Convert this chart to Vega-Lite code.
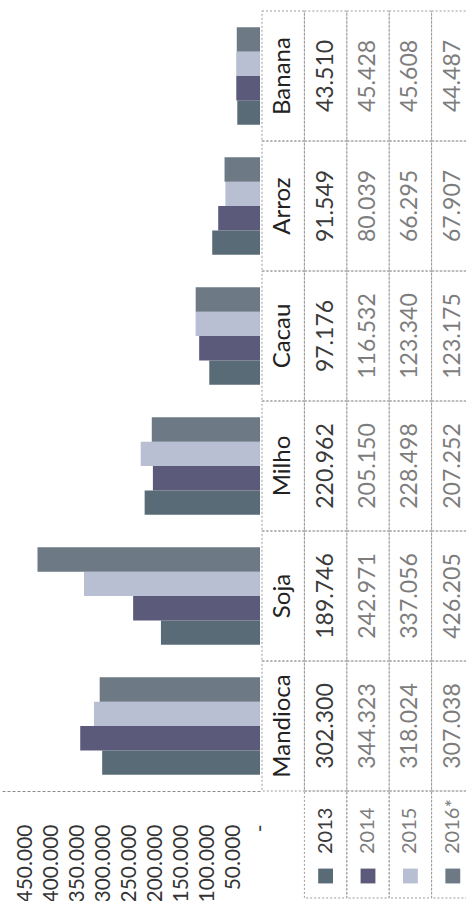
{
  "$schema": "https://vega.github.io/schema/vega-lite/v6.json",
  "autosize": {"type": "pad"},
  "padding": {"left": 0, "top": 10, "right": 0, "bottom": 0},
  "background": "white",
  "config": {
    "view": {"stroke": null},
    "font": "Lato",
    "locale": {"number": {"decimal": ",", "thousands": ".", "grouping": [3], "currency": ["R$", ""]}}
  },
  "datasets": {
    "producao": [
      {"cultura": "Mandioca", "ano": "2013", "valor": 302300},
      {"cultura": "Mandioca", "ano": "2014", "valor": 344323},
      {"cultura": "Mandioca", "ano": "2015", "valor": 318024},
      {"cultura": "Mandioca", "ano": "2016*", "valor": 307038},
      {"cultura": "Soja", "ano": "2013", "valor": 189746},
      {"cultura": "Soja", "ano": "2014", "valor": 242971},
      {"cultura": "Soja", "ano": "2015", "valor": 337056},
      {"cultura": "Soja", "ano": "2016*", "valor": 426205},
      {"cultura": "Milho", "ano": "2013", "valor": 220962},
      {"cultura": "Milho", "ano": "2014", "valor": 205150},
      {"cultura": "Milho", "ano": "2015", "valor": 228498},
      {"cultura": "Milho", "ano": "2016*", "valor": 207252},
      {"cultura": "Cacau", "ano": "2013", "valor": 97176},
      {"cultura": "Cacau", "ano": "2014", "valor": 116532},
      {"cultura": "Cacau", "ano": "2015", "valor": 123340},
      {"cultura": "Cacau", "ano": "2016*", "valor": 123175},
      {"cultura": "Arroz", "ano": "2013", "valor": 91549},
      {"cultura": "Arroz", "ano": "2014", "valor": 80039},
      {"cultura": "Arroz", "ano": "2015", "valor": 66295},
      {"cultura": "Arroz", "ano": "2016*", "valor": 67907},
      {"cultura": "Banana", "ano": "2013", "valor": 43510},
      {"cultura": "Banana", "ano": "2014", "valor": 45428},
      {"cultura": "Banana", "ano": "2015", "valor": 45608},
      {"cultura": "Banana", "ano": "2016*", "valor": 44487}
    ],
    "culturas": [
      {"cultura": "Mandioca"}, {"cultura": "Soja"}, {"cultura": "Milho"},
      {"cultura": "Cacau"}, {"cultura": "Arroz"}, {"cultura": "Banana"}
    ],
    "anos": [
      {"ano": "2013"}, {"ano": "2014"}, {"ano": "2015"}, {"ano": "2016*"}
    ]
  },
  "spacing": 2,
  "bounds": "flush",
  "resolve": {"scale": {"x": "independent", "y": "independent"}},
  "hconcat": [
    {
      "width": 260,
      "height": 780,
      "data": {"name": "producao"},
      "mark": {"type": "bar"},
      "encoding": {
        "y": {
          "field": "cultura", "type": "nominal",
          "scale": {"domain": ["Banana", "Arroz", "Cacau", "Milho", "Soja", "Mandioca"], "paddingInner": 0.25, "paddingOuter": 0.125},
          "axis": null
        },
        "yOffset": {
          "field": "ano", "type": "nominal",
          "scale": {"domain": ["2016*", "2015", "2014", "2013"], "paddingInner": 0, "paddingOuter": 0}
        },
        "x": {
          "field": "valor", "type": "quantitative",
          "scale": {"domain": [0, 498000], "reverse": true, "nice": false, "zero": true},
          "axis": {
            "orient": "bottom",
            "title": null,
            "values": [0, 50000, 100000, 150000, 200000, 250000, 300000, 350000, 400000, 450000],
            "format": ",.0f",
            "labelExpr": "datum.value === 0 ? '-' : datum.label",
            "labelAngle": 270,
            "labelAlign": "right",
            "labelBaseline": "middle",
            "labelPadding": 33,
            "labelFont": "Lato",
            "labelFontSize": 21,
            "labelColor": "#333333",
            "labelOverlap": false,
            "labelFlush": false,
            "labelBound": false,
            "ticks": false,
            "grid": false,
            "domain": true,
            "domainColor": "#8a8a8a",
            "domainDash": [3, 2]
          }
        },
        "color": {
          "field": "ano", "type": "nominal",
          "scale": {"domain": ["2013", "2014", "2015", "2016*"], "range": ["#5a6b78", "#5b5a7a", "#b9bfd2", "#6d7a86"]},
          "legend": null
        }
      }
    },
    {
      "spacing": 0,
      "bounds": "flush",
      "vconcat": [
        {
          "width": 212,
          "height": 780,
          "layer": [
            {
              "data": {"name": "culturas"},
              "mark": {"type": "rect", "filled": false, "stroke": "#9a9a9a", "strokeWidth": 1, "strokeDash": [2, 2]},
              "encoding": {
                "x": {"datum": "cab", "type": "nominal", "scale": {"domain": ["cab", "2013", "2014", "2015", "2016*"], "paddingInner": 0, "paddingOuter": 0}, "axis": null},
                "y": {"field": "cultura", "type": "nominal", "scale": {"domain": ["Banana", "Arroz", "Cacau", "Milho", "Soja", "Mandioca"], "paddingInner": 0, "paddingOuter": 0}, "axis": null}
              }
            },
            {
              "data": {"name": "producao"},
              "mark": {"type": "rect", "filled": false, "stroke": "#9a9a9a", "strokeWidth": 1, "strokeDash": [2, 2]},
              "encoding": {
                "x": {"field": "ano", "type": "nominal"},
                "y": {"field": "cultura", "type": "nominal"}
              }
            },
            {
              "data": {"name": "culturas"},
              "mark": {"type": "text", "angle": 270, "align": "center", "baseline": "middle", "font": "Lato", "fontSize": 24, "color": "#222222"},
              "encoding": {
                "x": {"datum": "cab", "type": "nominal"},
                "y": {"field": "cultura", "type": "nominal"},
                "text": {"field": "cultura", "type": "nominal"}
              }
            },
            {
              "data": {"name": "producao"},
              "mark": {"type": "text", "angle": 270, "align": "center", "baseline": "middle", "font": "Lato", "fontSize": 23},
              "encoding": {
                "x": {"field": "ano", "type": "nominal"},
                "y": {"field": "cultura", "type": "nominal"},
                "text": {"field": "valor", "type": "quantitative", "format": ",.0f"},
                "color": {"condition": {"test": "datum.ano === '2013'", "value": "#3a3a3a"}, "value": "#7d7d7d"}
              }
            }
          ]
        },
        {
          "width": 212,
          "height": 107,
          "data": {"name": "anos"},
          "layer": [
            {
              "mark": {"type": "rect", "filled": false, "stroke": "#9a9a9a", "strokeWidth": 1, "strokeDash": [2, 2]},
              "encoding": {
                "x": {"field": "ano", "type": "nominal", "scale": {"domain": ["cab", "2013", "2014", "2015", "2016*"], "paddingInner": 0, "paddingOuter": 0}, "axis": null}
              }
            },
            {
              "mark": {"type": "square", "size": 220, "opacity": 1, "filled": true, "yOffset": 31.5},
              "encoding": {
                "x": {"field": "ano", "type": "nominal"},
                "color": {
                  "field": "ano", "type": "nominal",
                  "scale": {"domain": ["2013", "2014", "2015", "2016*"], "range": ["#5a6b78", "#5b5a7a", "#b9bfd2", "#6d7a86"]},
                  "legend": null
                }
              }
            },
            {
              "mark": {"type": "text", "angle": 270, "align": "left", "baseline": "middle", "font": "Lato", "fontSize": 20, "yOffset": 9.5},
              "encoding": {
                "x": {"field": "ano", "type": "nominal"},
                "text": {"field": "ano", "type": "nominal"},
                "color": {"condition": {"test": "datum.ano === '2013'", "value": "#3a3a3a"}, "value": "#7d7d7d"}
              }
            }
          ]
        }
      ]
    }
  ]
}
